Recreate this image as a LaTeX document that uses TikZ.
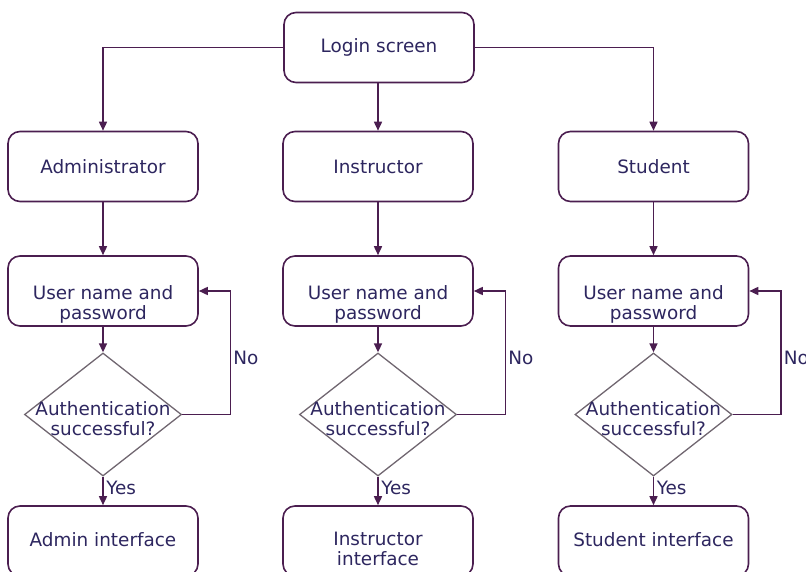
\documentclass[tikz,border=0pt]{standalone}
\usepackage{fontspec}
\setmainfont{DejaVu Sans}
\usetikzlibrary{arrows.meta,shapes.geometric}

\definecolor{txtc}{RGB}{45,38,95}
\definecolor{linec}{RGB}{75,30,80}
\definecolor{diac}{RGB}{112,102,112}

\tikzset{
  box/.style={draw=linec, line width=1.6pt, rounded corners=12pt,
    minimum width=190pt, minimum height=70pt, inner sep=0pt,
    text=txtc, font=\fontsize{18.4}{20}\selectfont},
  dia/.style={draw=diac, line width=1.3pt, diamond, inner sep=0pt,
    minimum width=157pt, minimum height=123pt},
  txt/.style={text=txtc, font=\fontsize{18.4}{20}\selectfont, align=center, inner sep=0pt},
  lbl/.style={text=txtc, font=\fontsize{18.4}{20}\selectfont, inner sep=2.5pt},
  flow/.style={draw=linec, line width=1.6pt, -{Triangle[length=9pt,width=8pt]}},
}

\begin{document}
\begin{tikzpicture}[x=1pt,y=-1pt]
\path[use as bounding box] (0,0) rectangle (806,572);

% top of the tree
\node[box] (login) at (379,47.5) {Login screen};

% the three roles
\node[box] (admin) at (103,166.5) {Administrator};
\node[box] (instr) at (378,166.5) {Instructor};
\node[box] (stud)  at (653.5,166.5) {Student};

% credential entry
\node[box] (unA) at (103,291) {};
\node[box] (unB) at (378,291) {};
\node[box] (unC) at (653.5,291) {};
\node[txt] (unAt) at (103,304) {User name and\\password};
\node[txt] (unBt) at (378,304) {User name and\\password};
\node[txt] (unCt) at (653.5,304) {User name and\\password};

% authentication checks
\node[dia] (dA) at (103,414.5) {};
\node[dia] (dB) at (378,414.5) {};
\node[dia] (dC) at (653.5,414.5) {};
\node[txt] (dAt) at (103,419) {Authentication\\successful?};
\node[txt] (dBt) at (378,419) {Authentication\\successful?};
\node[txt] (dCt) at (653.5,419) {Authentication\\successful?};

% resulting interfaces
\node[box] (ifA) at (103,541) {};
\node[box] (ifB) at (378,541) {};
\node[box] (ifC) at (653.5,541) {};
\node[txt] (ifAt) at (103,540) {Admin interface};
\node[txt] (ifBt) at (378,549) {Instructor\\interface};
\node[txt] (ifCt) at (653.5,540) {Student interface};

% connectors from the login screen
\draw[flow] (login.west) -| (admin.north);
\draw[flow] (instr.north |- login.south) -- (instr.north);
\draw[flow] (login.east) -| (stud.north);

% per-column flow
\coordinate (noRow) at (0,358);
\foreach \c/\r in {A/admin,B/instr,C/stud}{
  \draw[flow] (\r.south) -- (un\c.north);
  \draw[flow] (un\c.south) -- (d\c.north);
  \draw[flow] (d\c.east) -- ++(48.5,0) coordinate (lp\c) |- (un\c.east);
  \node[lbl, anchor=west] (no\c) at (lp\c |- noRow) {No};
  \draw[flow] (d\c.south) -- (if\c.north)
    node[lbl, pos=0.4, anchor=west] (yes\c) {Yes};
}
\end{tikzpicture}
\end{document}
